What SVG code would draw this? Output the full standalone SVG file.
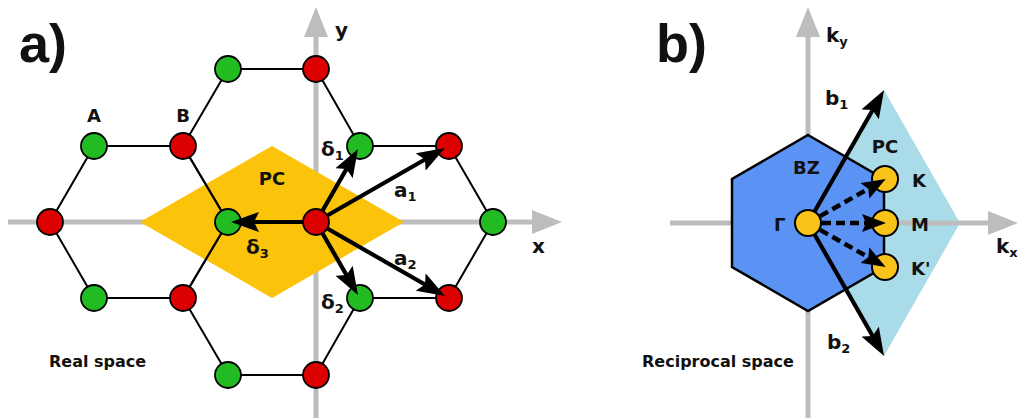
<svg xmlns="http://www.w3.org/2000/svg" width="1021" height="420" viewBox="0 0 1021 420">
<style>
.ax{stroke:#bdbdbd;stroke-width:5;fill:none}
.axh{fill:#bdbdbd}
.bond{stroke:#000;stroke-width:2;fill:none}
.g{fill:#22bb22;stroke:#000;stroke-width:1.8}
.r{fill:#dd0000;stroke:#000;stroke-width:1.8}
.yc{fill:#f9c31a;stroke:#000;stroke-width:2}
.vec{stroke:#000;stroke-width:4.2;fill:none;marker-end:url(#ah)}
.dash{stroke-dasharray:9 5;stroke-width:4.5;marker-end:url(#ah2)}
text{font-family:"DejaVu Sans","Liberation Sans",sans-serif;font-weight:bold;fill:#111}
.big{font-family:"Liberation Sans","DejaVu Sans",sans-serif;font-size:54px}
.lab{font-size:18px}
.gr{font-size:20px}
.sub{font-size:13px}
.cap{font-size:16px}
</style>
<defs>
<marker id="ah" markerUnits="userSpaceOnUse" viewBox="0 0 28 20" markerWidth="28" markerHeight="20" refX="14" refY="10" orient="auto">
<path d="M0,0 L28,10 L0,20 L5,10 Z" fill="#000"/>
</marker>
<marker id="ah2" markerUnits="userSpaceOnUse" viewBox="0 0 24 18" markerWidth="24" markerHeight="18" refX="11" refY="9" orient="auto">
<path d="M0,0 L24,9 L0,18 L4,9 Z" fill="#000"/>
</marker>
</defs>

<g id="panel-a">
<g id="axes-a">
<line class="ax" x1="316" y1="418" x2="316" y2="35"/>
<polygon class="axh" points="316,7 328,37 304,37"/>
<line class="ax" x1="8" y1="222" x2="534" y2="222"/>
<polygon class="axh" points="562,222 532,210 532,234"/>
</g>
<polygon id="pc-a" points="140,222 272,146 404,222 272,298" fill="#fcc30b"/>
<g id="bonds">
<path class="bond" d="M50,222 L94,146 L183,146 L228,222 L183,298 L94,298 Z"/>
<path class="bond" d="M183,146 L228,69 L316,69 L360,146 L316,222 L228,222 Z"/>
<path class="bond" d="M360,146 L449,146 L493,222 L449,298 L360,298 L316,222 Z"/>
<path class="bond" d="M228,222 L316,222 L360,298 L316,375 L228,375 L183,298 Z"/>
</g>
<g id="atoms">
<circle class="r" cx="50" cy="222" r="13"/>
<circle class="g" cx="94" cy="146" r="13"/>
<circle class="g" cx="94" cy="298" r="13"/>
<circle class="r" cx="183" cy="146" r="13"/>
<circle class="r" cx="183" cy="298" r="13"/>
<circle class="g" cx="228" cy="69" r="13"/>
<circle class="g" cx="228" cy="375" r="13"/>
<circle class="g" cx="228" cy="222" r="13"/>
<circle class="r" cx="316" cy="69" r="13"/>
<circle class="r" cx="316" cy="375" r="13"/>
<circle class="g" cx="360" cy="146" r="13"/>
<circle class="g" cx="360" cy="298" r="13"/>
<circle class="r" cx="449" cy="146" r="13"/>
<circle class="r" cx="449" cy="298" r="13"/>
<circle class="g" cx="493" cy="222" r="13"/>
</g>
<g id="vectors-a">
<line class="vec" x1="316" y1="222" x2="351" y2="161.1"/>
<line class="vec" x1="316" y1="222" x2="245" y2="222"/>
<line class="vec" x1="316" y1="222" x2="351" y2="282.9"/>
<line class="vec" x1="316" y1="222" x2="432.8" y2="155"/>
<line class="vec" x1="316" y1="222" x2="432.8" y2="289"/>
</g>
<circle id="center-atom" class="r" cx="316" cy="222" r="13"/>
<g id="labels-a">
<text class="big" x="19" y="62">a)</text>
<text class="lab" x="94" y="122" text-anchor="middle">A</text>
<text class="lab" x="183" y="122" text-anchor="middle">B</text>
<text class="lab" x="272" y="185" text-anchor="middle">PC</text>
<text class="gr" x="321" y="156">δ<tspan class="sub" dy="4">1</tspan></text>
<text class="gr" x="246" y="254">δ<tspan class="sub" dy="4">3</tspan></text>
<text class="gr" x="321" y="309">δ<tspan class="sub" dy="4">2</tspan></text>
<text class="gr" x="394" y="197">a<tspan class="sub" dy="4">1</tspan></text>
<text class="gr" x="394" y="265">a<tspan class="sub" dy="4">2</tspan></text>
<text class="gr" x="532" y="253">x</text>
<text class="gr" x="335" y="37">y</text>
<text class="cap" x="49" y="367">Real space</text>
</g>
</g>

<g id="panel-b">
<polygon id="pc-b" points="808,223 884,90 960,223 884,356" fill="#aadbe9"/>
<g id="axes-b">
<line class="ax" x1="808" y1="418" x2="808" y2="35"/>
<polygon class="axh" points="808,7 820,37 796,37"/>
<line class="ax" x1="670" y1="223" x2="990" y2="223"/>
<polygon class="axh" points="1018,223 988,211 988,235"/>
</g>
<polygon id="bz" points="808,135 884,179 884,267 808,311 732,267 732,179" fill="#5b93f5" stroke="#000" stroke-width="2.5"/>
<g id="vectors-b">
<line class="vec" x1="808" y1="223" x2="877.1" y2="102.2"/>
<line class="vec" x1="808" y1="223" x2="877.1" y2="343.8"/>
</g>
<g id="kpoints">
<circle class="yc" cx="885" cy="179" r="13"/>
<circle class="yc" cx="885" cy="223" r="13"/>
<circle class="yc" cx="885" cy="267" r="13"/>
</g>
<g id="paths-b">
<line class="vec dash" x1="808" y1="223" x2="874.4" y2="185.4"/>
<line class="vec dash" x1="808" y1="223" x2="873" y2="223"/>
<line class="vec dash" x1="808" y1="223" x2="874.4" y2="260.6"/>
</g>
<circle id="gamma" class="yc" cx="808" cy="223" r="13"/>
<g id="labels-b">
<text class="big" x="656" y="62">b)</text>
<text class="gr" x="826" y="42">k<tspan class="sub" dy="4">y</tspan></text>
<text class="gr" x="825" y="105">b<tspan class="sub" dy="4">1</tspan></text>
<text class="lab" x="885" y="153" text-anchor="middle">PC</text>
<text class="lab" x="793" y="174">BZ</text>
<text class="lab" x="912" y="187">K</text>
<text class="lab" x="774" y="231">Γ</text>
<text class="lab" x="911" y="231">M</text>
<text class="lab" x="911" y="275">K'</text>
<text class="gr" x="996" y="253">k<tspan class="sub" dy="4">x</tspan></text>
<text class="gr" x="827" y="349">b<tspan class="sub" dy="4">2</tspan></text>
<text class="cap" x="642" y="367">Reciprocal space</text>
</g>
</g>
</svg>
